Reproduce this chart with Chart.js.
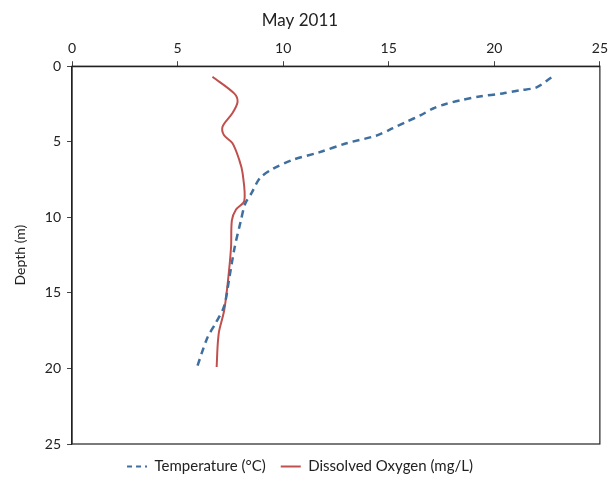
<!DOCTYPE html>
<html><head><meta charset="utf-8">
<script src="https://cdn.jsdelivr.net/npm/chart.js@4/dist/chart.umd.min.js"></script>
<style>html,body{margin:0;padding:0;background:#fff}canvas{display:block}</style>
</head><body>
<canvas id="c" width="612" height="486"></canvas>
<script>
const tempDepth = [0.75, 1.4, 1.6, 1.8, 2.0, 2.25, 2.5, 2.8, 3.25, 3.7, 4.1, 4.6, 5.1, 5.7, 6.2, 6.8, 7.4, 8.4, 9.1, 10.2, 12.0, 14.0, 15.9, 17.0, 18.0, 20.0];
const tempValues = [22.7, 22.0, 21.2, 20.4, 19.3, 18.4, 17.7, 17.1, 16.5, 15.8, 15.2, 14.4, 13.0, 11.7, 10.45, 9.5, 8.9, 8.5, 8.2, 8.0, 7.7, 7.45, 7.2, 6.8, 6.4, 5.9];
const doDepth = [0.7, 1.8, 2.36, 3.1, 4.0, 4.57, 5.1, 6.2, 7.1, 8.9, 9.5, 10.2, 12.0, 14.4, 16.2, 17.5, 18.4, 19.9];
const doValues = [6.65, 7.68, 7.84, 7.6, 7.13, 7.2, 7.6, 7.92, 8.08, 8.16, 7.76, 7.57, 7.53, 7.37, 7.2, 6.97, 6.9, 6.85];
const xTicks = [0, 5, 10, 15, 20, 25];
const yTicks = [0, 5, 10, 15, 20, 25];
const seriesNames = ['Temperature (°C)', 'Dissolved Oxygen (mg/L)'];
const FONT = 'Lato';

const boxPlugin = {
  id: 'box',
  afterDraw(chart) {
    const a = chart.chartArea, ctx = chart.ctx;
    ctx.save();
    ctx.strokeStyle = '#222';
    ctx.lineWidth = 1.2;
    ctx.strokeRect(a.left, a.top, a.right - a.left, a.bottom - a.top);
    ctx.restore();
  }
};

new Chart(document.getElementById('c'), {
  type: 'scatter',
  data: {
    datasets: [
      { label: seriesNames[0], data: tempDepth.map((d, i) => ({ x: tempValues[i], y: d })),
        showLine: true, borderColor: '#3f6f9f', backgroundColor: '#3f6f9f', borderWidth: 2.5,
        borderDash: [7, 5], pointRadius: 0, tension: 0.3 },
      { label: seriesNames[1], data: doDepth.map((d, i) => ({ x: doValues[i], y: d })),
        showLine: true, borderColor: '#c0504d', backgroundColor: '#c0504d', borderWidth: 2,
        pointRadius: 0, tension: 0.3 }
    ]
  },
  options: {
    responsive: false, animation: false,
    layout: { padding: { left: 0, right: 12, top: 4, bottom: 2 } },
    plugins: {
      title: { display: true, text: 'May 2011', color: '#222', font: { family: FONT, size: 17, weight: 'normal' }, padding: { top: 6, bottom: 6 } },
      legend: { position: 'bottom', labels: { color: '#222', font: { family: FONT, size: 15 }, usePointStyle: true, pointStyle: 'line', pointStyleWidth: 20, boxHeight: 8, padding: 15,
        generateLabels: chart => Chart.defaults.plugins.legend.labels.generateLabels(chart).map(l => {
          const ds = chart.data.datasets[l.datasetIndex];
          l.lineDash = ds.borderDash ? [5, 4] : [];
          l.lineWidth = 2;
          return l;
        }) } },
      tooltip: { enabled: false }
    },
    scales: {
      x: { type: 'linear', position: 'top', min: 0, max: 25,
        afterBuildTicks: s => { s.ticks = xTicks.map(v => ({ value: v })); },
        ticks: { color: '#222', font: { family: FONT, size: 14 }, padding: 4 },
        grid: { drawOnChartArea: false, drawTicks: true, tickLength: 5, color: '#444' },
        border: { color: '#222', width: 1.2 } },
      y: { type: 'linear', reverse: true, min: 0, max: 25,
        afterBuildTicks: s => { s.ticks = yTicks.map(v => ({ value: v })); },
        ticks: { color: '#222', font: { family: FONT, size: 14 }, padding: 6 },
        title: { display: true, text: 'Depth (m)', color: '#222', font: { family: FONT, size: 14 }, padding: { top: 12, bottom: 10 } },
        grid: { drawOnChartArea: false, drawTicks: true, tickLength: 5, color: '#444' },
        border: { color: '#222', width: 1.2 } }
    }
  },
  plugins: [boxPlugin]
});
</script>
</body></html>
